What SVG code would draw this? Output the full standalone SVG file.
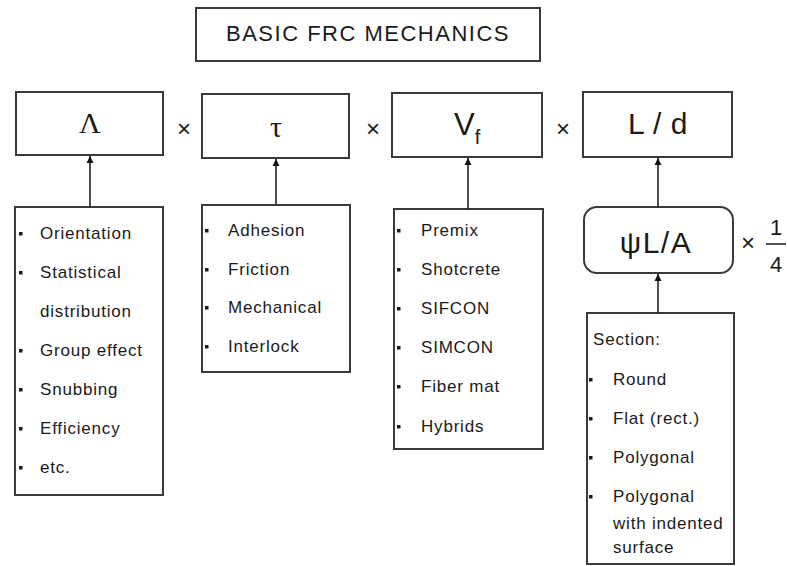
<svg xmlns="http://www.w3.org/2000/svg" width="787" height="566" viewBox="0 0 787 566">
<style>
.box{fill:#fff;stroke:#3a3a3a;stroke-width:2}
.t{font-family:"Liberation Sans",Arial,sans-serif;fill:#1a1a1a}
.li{font-size:17px;letter-spacing:0.8px}
.sym{font-size:30px;text-anchor:middle}
.op{font-size:24px;text-anchor:middle}
.b{fill:#1a1a1a}
.conn line{stroke:#222;stroke-width:1.6}
</style>
<defs>
<marker id="ah" viewBox="0 0 10 10" refX="10" refY="5" markerWidth="7" markerHeight="9" markerUnits="userSpaceOnUse" orient="auto">
<path d="M0,0 L10,5 L0,10 Z" fill="#111"/>
</marker>
</defs>
<g id="title">
<rect class="box" x="196" y="8" width="344" height="53"/>
<text class="t" x="368" y="41" font-size="22" letter-spacing="1.5" text-anchor="middle">BASIC FRC MECHANICS</text>
</g>
<g id="lambda">
<rect class="box" x="16" y="92" width="147" height="63"/>
<text x="90" y="133" font-family="Liberation Serif,serif" font-size="30" text-anchor="middle" fill="#1a1a1a">Λ</text>
</g>
<text class="t op" x="184" y="137">×</text>
<g id="tau">
<rect class="box" x="202" y="94" width="147" height="64"/>
<text x="276" y="137" font-family="Liberation Serif,serif" font-size="30" text-anchor="middle" fill="#1a1a1a">τ</text>
</g>
<text class="t op" x="373" y="137">×</text>
<g id="vf">
<rect class="box" x="392" y="93" width="150" height="64"/>
<text class="t" x="454" y="135" font-size="31">V<tspan font-size="20" dy="9">f</tspan></text>
</g>
<text class="t op" x="563" y="137">×</text>
<g id="ld">
<rect class="box" x="583" y="92" width="149" height="65"/>
<text class="t sym" x="658" y="134" letter-spacing="0.5">L / d</text>
</g>
<g id="psi">
<rect class="box" x="584" y="207" width="149" height="66" rx="13" ry="13"/>
<text class="t sym" x="656" y="253" letter-spacing="1.5">ψL/A</text>
</g>
<g id="quarter">
<text class="t op" x="748" y="251">×</text>
<text class="t" x="776" y="235" font-size="22" text-anchor="middle">1</text>
<line x1="766" y1="244" x2="786" y2="244" stroke="#1a1a1a" stroke-width="1.5"/>
<text class="t" x="776" y="272" font-size="22" text-anchor="middle">4</text>
</g>
<g id="list-lambda">
<rect class="box" x="15" y="207" width="148" height="288"/>
<g class="b">
<rect x="19" y="232" width="3.5" height="3.5"/>
<rect x="19" y="271" width="3.5" height="3.5"/>
<rect x="19" y="349" width="3.5" height="3.5"/>
<rect x="19" y="388" width="3.5" height="3.5"/>
<rect x="19" y="427" width="3.5" height="3.5"/>
<rect x="19" y="466" width="3.5" height="3.5"/>
</g>
<text class="t li" x="40" y="239">Orientation</text>
<text class="t li" x="40" y="278">Statistical</text>
<text class="t li" x="40" y="317">distribution</text>
<text class="t li" x="40" y="356">Group effect</text>
<text class="t li" x="40" y="395">Snubbing</text>
<text class="t li" x="40" y="434">Efficiency</text>
<text class="t li" x="40" y="473">etc.</text>
</g>
<g id="list-tau">
<rect class="box" x="202" y="205" width="148" height="167"/>
<g class="b">
<rect x="205" y="229" width="3.5" height="3.5"/>
<rect x="205" y="268" width="3.5" height="3.5"/>
<rect x="205" y="306" width="3.5" height="3.5"/>
<rect x="205" y="345" width="3.5" height="3.5"/>
</g>
<text class="t li" x="228" y="236">Adhesion</text>
<text class="t li" x="228" y="275">Friction</text>
<text class="t li" x="228" y="313">Mechanical</text>
<text class="t li" x="228" y="352">Interlock</text>
</g>
<g id="list-vf">
<rect class="box" x="394" y="209" width="149" height="240"/>
<g class="b">
<rect x="397" y="229" width="3.5" height="3.5"/>
<rect x="397" y="268" width="3.5" height="3.5"/>
<rect x="397" y="307" width="3.5" height="3.5"/>
<rect x="397" y="346" width="3.5" height="3.5"/>
<rect x="397" y="385" width="3.5" height="3.5"/>
<rect x="397" y="425" width="3.5" height="3.5"/>
</g>
<text class="t li" x="421" y="236">Premix</text>
<text class="t li" x="421" y="275">Shotcrete</text>
<text class="t li" x="421" y="314">SIFCON</text>
<text class="t li" x="421" y="353">SIMCON</text>
<text class="t li" x="421" y="392">Fiber mat</text>
<text class="t li" x="421" y="432">Hybrids</text>
</g>
<g id="list-section">
<rect class="box" x="587" y="313" width="147" height="251"/>
<g class="b">
<rect x="589" y="378" width="3.5" height="3.5"/>
<rect x="589" y="417" width="3.5" height="3.5"/>
<rect x="589" y="456" width="3.5" height="3.5"/>
<rect x="589" y="495" width="3.5" height="3.5"/>
</g>
<text class="t li" x="593" y="345">Section:</text>
<text class="t li" x="613" y="385">Round</text>
<text class="t li" x="613" y="424">Flat (rect.)</text>
<text class="t li" x="613" y="463">Polygonal</text>
<text class="t li" x="613" y="502">Polygonal</text>
<text class="t li" x="613" y="529">with indented</text>
<text class="t li" x="613" y="553">surface</text>
</g>
<g id="connectors" class="conn">
<line x1="90" y1="207" x2="90" y2="156" marker-end="url(#ah)"/>
<line x1="276" y1="205" x2="276" y2="159" marker-end="url(#ah)"/>
<line x1="468" y1="209" x2="468" y2="158" marker-end="url(#ah)"/>
<line x1="658" y1="207" x2="658" y2="158" marker-end="url(#ah)"/>
<line x1="658" y1="313" x2="658" y2="274" marker-end="url(#ah)"/>
</g>
</svg>
